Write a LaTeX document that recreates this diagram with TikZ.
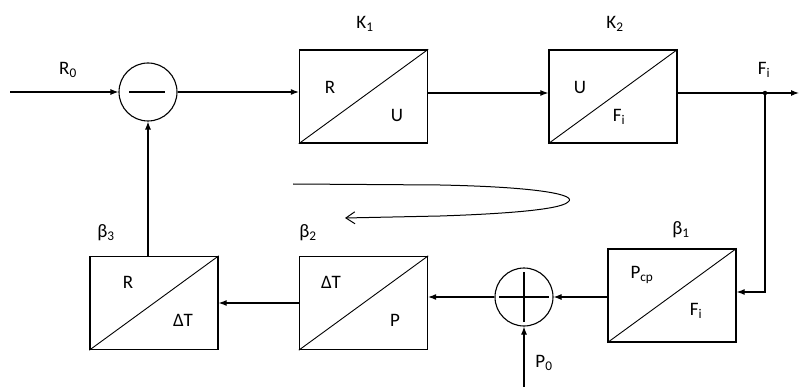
\documentclass[tikz,border=0pt]{standalone}
\usepackage{fontspec}
\setmainfont{Carlito}
\usetikzlibrary{arrows.meta}
\begin{document}
\begin{tikzpicture}[x=1pt,y=-1pt,
  blk/.style={draw,line width=1.3pt,minimum width=128pt,minimum height=93pt,inner sep=0pt},
  sumc/.style={draw,circle,line width=1.1pt,minimum size=58pt,inner sep=0pt},
  conn/.style={line width=1.1pt,-{Latex[length=8pt,width=6pt]}},
  lbl/.style={font=\fontsize{19}{20}\selectfont,inner sep=0pt},
  diag/.style={line width=0.9pt}]
\useasboundingbox (0,0) rectangle (799,387);
% nodes
\node[sumc] (c1) at (148,92) {};
\draw[line width=1.1pt] ([xshift=-19pt]c1.center) -- ([xshift=17pt]c1.center);
\node[blk] (K1) at (363.5,96.5) {};
\node[blk] (K2) at (613,96.5) {};
\node[blk] (B1) at (672,295.5) {};
\node[sumc] (c2) at (524,297) {};
\draw[line width=1.1pt] ([xshift=-25pt]c2.center) -- ([xshift=25pt]c2.center);
\draw[line width=1.1pt] ([yshift=-25pt]c2.center) -- ([yshift=25pt]c2.center);
\node[blk] (B2) at (363.5,303) {};
\node[blk] (B3) at (154,303) {};
\foreach \b in {K1,K2,B1,B2,B3} \draw[diag] (\b.south west) -- (\b.north east);
\coordinate (in) at (10,92);
\coordinate (J) at (765,93);
\coordinate (out) at (799,93);
\coordinate (Jd) at (765,292);
\coordinate (p0) at (524,387);
% connectors
\draw[conn] (in) -- (c1.west);
\draw[conn] (c1.east) -- (c1.east -| K1.west);
\draw[conn] (K1.east |- J) -- (K2.west |- J);
\draw[line width=1.1pt] (K2.east |- J) -- (J);
\draw[conn] (J) -- (out);
\fill (J) circle (2.2pt);
\draw[conn] (J) -- (Jd) -- (Jd -| B1.east);
\draw[conn] (B1.west |- c2.east) -- (c2.east);
\draw[conn] (c2.west) -- (c2.west -| B2.east);
\draw[conn] (B2.west) -- (B3.east);
\draw[conn] (B3.north -| c1.south) -- (c1.south);
\draw[conn] (p0) -- (c2.south);
% loop arrow
\draw[line width=1pt,-{Straight Barb[length=9pt,width=12pt]}] (293,184) -- (440,185)
  .. controls (540,187) and (578,195) .. (568,202)
  .. controls (560,210) and (500,214) .. (440,216) -- (345,218);
% labels
\node[lbl] (lR0) at (68,70) {R\textsubscript{0}};
\node[lbl] (lK1) at (365,24) {K\textsubscript{1}};
\node[lbl] (lK2) at (615,24) {K\textsubscript{2}};
\node[lbl] (lFi) at (764,70) {F\textsubscript{i}};
\node[lbl] (lB3) at (106,233) {β\textsubscript{3}};
\node[lbl] (lB2) at (308,233) {β\textsubscript{2}};
\node[lbl] (lB1) at (681,230) {β\textsubscript{1}};
\node[lbl] (lP0) at (544,363) {P\textsubscript{0}};
\node[lbl] at (330,87) {R};
\node[lbl] at (397,115) {U};
\node[lbl] at (580,87) {U};
\node[lbl] at (619,117) {F\textsubscript{i}};
\node[lbl] at (128,282) {R};
\node[lbl] at (183,320) {ΔT};
\node[lbl] at (331,282) {ΔT};
\node[lbl] at (395,320) {P};
\node[lbl] at (642,275) {P\textsubscript{cp}};
\node[lbl] at (696,311) {F\textsubscript{i}};
\end{tikzpicture}
\end{document}
